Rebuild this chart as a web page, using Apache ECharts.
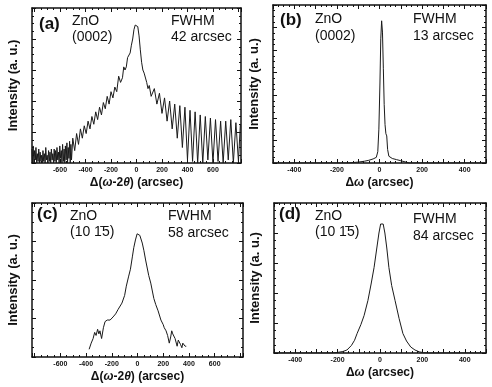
<!DOCTYPE html>
<html>
<head>
<meta charset="utf-8">
<script src="https://cdn.jsdelivr.net/npm/echarts/dist/echarts.min.js"></script>
<style>
  html, body { margin: 0; padding: 0; background: #fff; }
  #chart { width: 492px; height: 387px; }
</style>
</head>
<body>
<div id="chart"></div>
<script>
// (a) ZnO (0002) omega-2theta scan: [arcsec, intensity]
const scanA = [
  [-820, 9], [-816, 1], [-811, 11], [-805, 0], [-800, 8], [-794, 2], [-789, 10], [-783, 0],
  [-778, 6], [-772, 1], [-767, 9], [-761, 0], [-756, 7], [-750, 1], [-745, 5], [-739, 0],
  [-734, 8], [-728, 1], [-723, 6], [-717, 0], [-712, 10], [-706, 2], [-701, 5], [-695, 0],
  [-690, 8], [-684, 1], [-679, 7], [-673, 0], [-668, 9], [-662, 2], [-657, 6], [-651, 0],
  [-646, 9], [-640, 1], [-635, 8], [-629, 0], [-624, 10], [-618, 2], [-612, 7], [-607, 0],
  [-602, 11], [-596, 3], [-590, 8], [-585, 0], [-580, 12], [-574, 1], [-568, 9], [-563, 0],
  [-558, 11], [-552, 2], [-546, 13], [-541, 0], [-536, 10], [-530, 3], [-525, 14], [-520, 0],
  [-515, 12], [-510, 2], [-500, 16], [-485, 8], [-470, 19], [-455, 12], [-440, 22], [-425, 16],
  [-410, 24], [-395, 19], [-380, 27], [-365, 22], [-350, 30], [-335, 25], [-320, 33], [-305, 28],
  [-290, 36], [-275, 31], [-260, 39], [-245, 35], [-230, 43], [-215, 38], [-200, 46], [-185, 42],
  [-170, 49], [-155, 46], [-140, 56], [-125, 52], [-110, 55], [-100, 62], [-90, 60], [-80, 62],
  [-70, 68], [-60, 68], [-50, 71], [-40, 76], [-30, 80], [-20, 86], [-10, 89], [0, 90],
  [10, 88], [20, 82], [30, 73], [40, 65], [50, 60], [60, 58], [70, 57], [80, 52],
  [90, 48], [100, 50], [115, 43], [125, 42], [140, 48], [160, 38], [180, 45], [200, 32],
  [220, 42], [240, 27], [260, 40], [280, 22], [300, 38], [320, 16], [340, 37], [360, 10],
  [380, 36], [400, 2], [420, 34], [440, 1], [460, 33], [480, 0], [500, 31], [520, 0],
  [540, 30], [560, 2], [580, 29], [600, 0], [620, 28], [640, 1], [660, 27], [680, 0],
  [700, 27], [720, 2], [740, 28], [760, 0], [780, 26], [800, 1], [815, 25]
];

// (b) ZnO (0002) omega rocking curve
const scanB = [
  [-500, 0], [-150, 0], [-100, 0.4], [-70, 0.8], [-50, 1.2], [-30, 1.8], [-15, 2.5], [-8, 5],
  [-3, 15], [2, 35], [6, 55], [10, 63], [14, 58], [18, 42], [22, 26], [26, 17],
  [30, 13], [34, 12], [38, 6], [44, 3], [60, 2], [80, 1.5], [100, 1], [120, 0.5],
  [140, 0], [500, 0]
];

// (c) ZnO (10-15) omega-2theta scan
const scanC = [
  [-376, 5], [-360, 9], [-345, 12], [-333, 16], [-322, 14], [-310, 18], [-300, 15], [-292, 17],
  [-279, 12], [-265, 19], [-252, 23], [-235, 24], [-213, 24], [-190, 26], [-170, 28], [-150, 31],
  [-121, 35], [-100, 40], [-87, 46], [-70, 52], [-55, 57], [-40, 65], [-29, 71], [-16, 76],
  [-3, 80], [5, 81], [18, 79], [37, 74], [50, 69], [63, 63], [87, 53], [103, 48],
  [127, 38], [142, 34], [160, 30], [182, 24], [200, 21], [208, 19], [222, 17], [234, 14],
  [247, 9], [258, 13], [266, 17], [274, 15], [283, 16], [292, 12], [300, 11], [308, 7],
  [317, 11], [326, 10], [335, 8], [345, 6], [352, 9], [360, 10], [370, 7], [379, 7]
];

// (d) ZnO (10-15) omega rocking curve
const scanD = [
  [-500, 0], [-230, 0], [-200, 0.4], [-175, 1], [-156, 2], [-135, 5], [-120, 8.5], [-108, 13],
  [-90, 19], [-75, 25], [-57, 35], [-42, 46], [-28, 57], [-15, 70], [-5, 80], [3, 86],
  [9, 87], [15, 86], [23, 80], [32, 70], [42, 57], [55, 45], [71, 35], [90, 23],
  [108, 13], [125, 8], [145, 4], [165, 2], [185, 0.8], [205, 0.2], [230, 0], [500, 0]
];

const panelTags = ['(a)', '(b)', '(c)', '(d)'];
const materials = ['ZnO', 'ZnO', 'ZnO', 'ZnO'];
const reflections = ['(0002)', '(0002)', '(10 1\u03045)', '(10 1\u03045)'];
const fwhmValues = ['42 arcsec', '13 arcsec', '58 arcsec', '84 arcsec'];

// tick labels shown on the x axes
const wideTicks = [-600, -400, -200, 0, 200, 400, 600];
const narrowTicks = [-400, -200, 0, 200, 400];

const FONT = '"Liberation Sans", Arial, sans-serif';
const INK = '#111';

const grids = [
  { left: 32, top: 8, width: 209, height: 155 },
  { left: 273, top: 5, width: 213, height: 158 },
  { left: 32, top: 203, width: 211, height: 154 },
  { left: 274, top: 203, width: 212, height: 150 }
];

const xNameWide = '\u0394({i|\u03c9}-2{i|\u03b8}) (arcsec)';
const xNameNarrow = '\u0394{i|\u03c9} (arcsec)';

const frameLine = { show: true, onZero: false, lineStyle: { color: INK, width: 1.5 } };
const tickIn = { show: true, inside: true, length: 4, lineStyle: { color: INK, width: 1 } };
const minorIn = { show: true, splitNumber: 4, length: 2, lineStyle: { color: INK, width: 1 } };

function xPair(g, wide) {
  const range = wide ? { min: -820, max: 820, splitNumber: 8 } : { min: -500, max: 500, interval: 100 };
  const shown = wide ? wideTicks : narrowTicks;
  const bottom = Object.assign({
    type: 'value', gridIndex: g, position: 'bottom',
    axisLine: frameLine, axisTick: tickIn, minorTick: minorIn,
    splitLine: { show: false },
    axisLabel: {
      fontSize: 7, fontWeight: 'bold', fontFamily: FONT, color: INK, margin: 4,
      formatter: v => (shown.indexOf(v) >= 0 ? String(v) : '')
    },
    name: wide ? xNameWide : xNameNarrow,
    nameLocation: 'middle', nameGap: 14,
    nameTextStyle: {
      fontSize: 12, fontWeight: 'bold', fontFamily: FONT, color: INK,
      rich: { i: { fontSize: 12, fontWeight: 'bold', fontStyle: 'italic', fontFamily: FONT, color: INK } }
    }
  }, range);
  const top = Object.assign({
    type: 'value', gridIndex: g, position: 'top',
    axisLine: frameLine, axisTick: tickIn, minorTick: minorIn,
    splitLine: { show: false }, axisLabel: { show: false }
  }, range);
  return [bottom, top];
}

function yPair(g, max, interval) {
  const left = {
    type: 'value', gridIndex: g, position: 'left', min: 0, max: max, interval: interval,
    axisLine: frameLine, axisTick: tickIn, minorTick: minorIn,
    splitLine: { show: false }, axisLabel: { show: false },
    name: 'Intensity (a. u.)', nameLocation: 'middle', nameGap: 12,
    nameTextStyle: { fontSize: 13, fontWeight: 'bold', fontFamily: FONT, color: INK }
  };
  const right = {
    type: 'value', gridIndex: g, position: 'right', min: 0, max: max, interval: interval,
    axisLine: frameLine, axisTick: tickIn, minorTick: minorIn,
    splitLine: { show: false }, axisLabel: { show: false }
  };
  return [left, right];
}

const xAxes = [].concat(xPair(0, true), xPair(1, false), xPair(2, true), xPair(3, false));
const yAxes = [].concat(yPair(0, 100, 20), yPair(1, 70, 10), yPair(2, 100, 25), yPair(3, 100, 20));

const scans = [scanA, scanB, scanC, scanD];
const series = scans.map((d, i) => ({
  type: 'line', xAxisIndex: 2 * i, yAxisIndex: 2 * i, data: d,
  showSymbol: false, symbol: 'none',
  lineStyle: { color: '#1a1a1a', width: 1 },
  silent: true
}));

// annotation anchors for each panel: tag, material / reflection, FWHM block
const tagPos = [[39, 16], [280, 12], [37, 206], [279, 206]];
const matPos = [[72, 14, 30], [315, 12, 29], [70, 209, 225], [315, 209, 225]];
const fwhmPos = [[171, 14, 30], [413, 12, 29], [168, 209, 226], [413, 212, 229]];

function txt(x, y, s, size, weight) {
  return {
    type: 'text', x: x, y: y, silent: true,
    style: { text: s, fontSize: size, fontWeight: weight, fontFamily: FONT, fill: INK, verticalAlign: 'top' }
  };
}

const graphics = [];
for (let i = 0; i < 4; i++) {
  graphics.push(txt(tagPos[i][0], tagPos[i][1], panelTags[i], 17, 'bold'));
  graphics.push(txt(matPos[i][0], matPos[i][1], materials[i], 14, 'normal'));
  graphics.push(txt(matPos[i][0], matPos[i][2], reflections[i], 14, 'normal'));
  graphics.push(txt(fwhmPos[i][0], fwhmPos[i][1], 'FWHM', 14, 'normal'));
  graphics.push(txt(fwhmPos[i][0], fwhmPos[i][2], fwhmValues[i], 14, 'normal'));
}

const chart = echarts.init(document.getElementById('chart'), null, { renderer: 'canvas' });
chart.setOption({
  animation: false,
  backgroundColor: '#fff',
  grid: grids,
  xAxis: xAxes,
  yAxis: yAxes,
  series: series,
  graphic: graphics
});
</script>
</body>
</html>
